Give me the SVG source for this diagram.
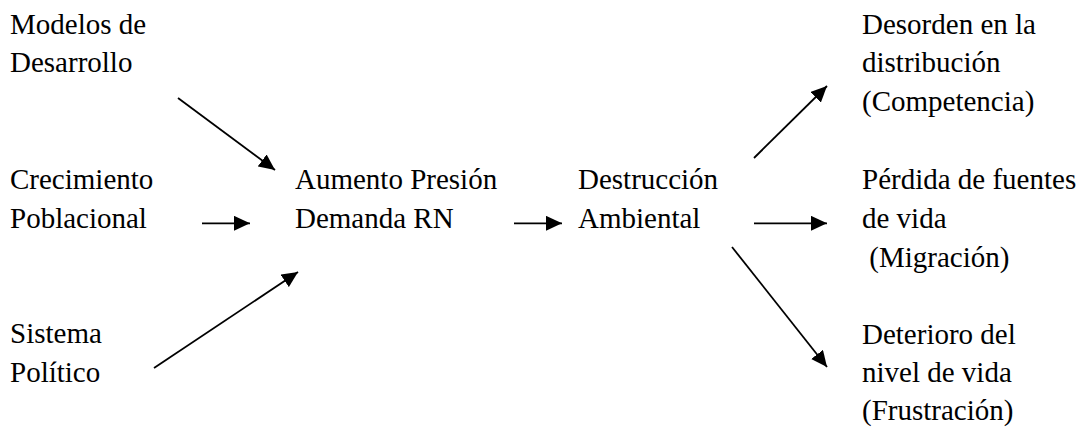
<svg xmlns="http://www.w3.org/2000/svg" width="1080" height="428" viewBox="0 0 1080 428">
<style>
text{font-family:'Liberation Serif','Times New Roman',serif;font-size:29px;fill:#000}
.c line{stroke:#000;stroke-width:1.8;fill:none}
</style>
<defs>
<marker id="ah" markerUnits="userSpaceOnUse" markerWidth="16" markerHeight="15" refX="16" refY="7.5" orient="auto">
<path d="M0,0 L16,7.5 L0,15 Z" fill="#000"/>
</marker>
</defs>
<rect width="1080" height="428" fill="#fff"/>
<g id="modelos"><text x="10" y="34">Modelos de</text><text x="10" y="72">Desarrollo</text></g>
<g id="crecimiento"><text x="10" y="189">Crecimiento</text><text x="10" y="228">Poblacional</text></g>
<g id="sistema"><text x="10" y="343">Sistema</text><text x="10" y="382">Político</text></g>
<g id="aumento"><text x="295" y="189">Aumento Presión</text><text x="295" y="228">Demanda RN</text></g>
<g id="destruccion"><text x="578" y="189">Destrucción</text><text x="578" y="228">Ambiental</text></g>
<g id="desorden"><text x="862" y="34">Desorden en la</text><text x="862" y="72">distribución</text><text x="862" y="111">(Competencia)</text></g>
<g id="perdida"><text x="862" y="189">Pérdida de fuentes</text><text x="862" y="228">de vida</text><text x="862" y="267" xml:space="preserve"> (Migración)</text></g>
<g id="deterioro"><text x="862" y="344">Deterioro del</text><text x="862" y="382">nivel de vida</text><text x="862" y="420">(Frustración)</text></g>
<g class="c" id="connectors">
<line x1="178" y1="98" x2="275" y2="170" marker-end="url(#ah)"/>
<line x1="202" y1="223.3" x2="250" y2="223.3" marker-end="url(#ah)"/>
<line x1="154" y1="368" x2="298" y2="272" marker-end="url(#ah)"/>
<line x1="514" y1="223.3" x2="562" y2="223.3" marker-end="url(#ah)"/>
<line x1="754" y1="158" x2="827" y2="86" marker-end="url(#ah)"/>
<line x1="754" y1="223.3" x2="827" y2="223.3" marker-end="url(#ah)"/>
<line x1="732" y1="247" x2="827" y2="367" marker-end="url(#ah)"/>
</g>
</svg>
